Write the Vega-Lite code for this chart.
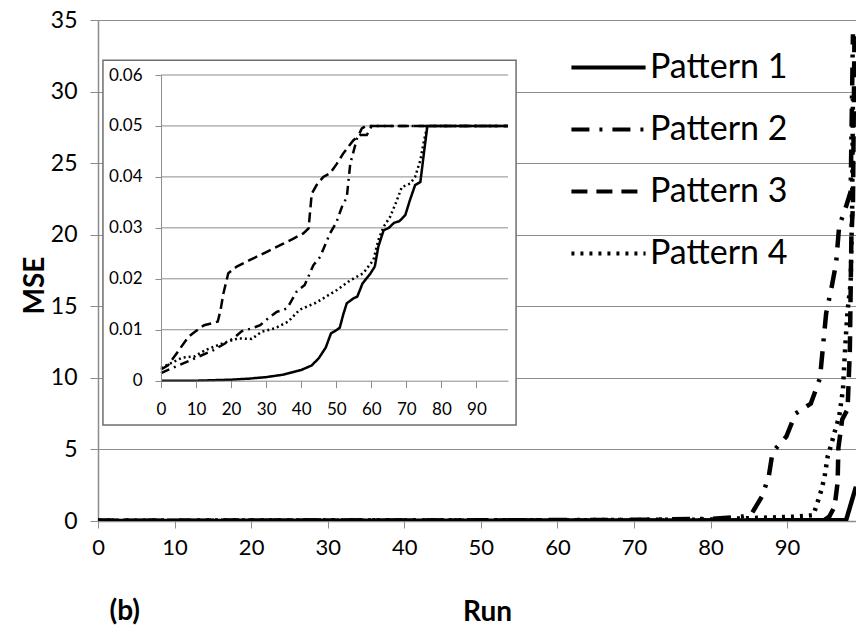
{
  "$schema": "https://vega.github.io/schema/vega-lite/v6.json",
  "width": 758,
  "height": 501,
  "autosize": {"type": "none"},
  "padding": {"left": 98, "top": 20, "right": 0, "bottom": 119},
  "background": "white",
  "config": {"font": "Lato", "view": {"stroke": null}},
  "resolve": {
    "scale": {"x": "independent", "y": "independent", "strokeDash": "independent"},
    "axis": {"x": "independent", "y": "independent"},
    "legend": {"strokeDash": "independent"}
  },
  "layer": [
    {
      "data": {"values": [
        {"run": 0, "mse": 0, "pattern": "Pattern 1"},
        {"run": 20, "mse": 0.01, "pattern": "Pattern 1"},
        {"run": 40, "mse": 0.02, "pattern": "Pattern 1"},
        {"run": 60, "mse": 0.03, "pattern": "Pattern 1"},
        {"run": 80, "mse": 0.04, "pattern": "Pattern 1"},
        {"run": 97.7, "mse": 0.05, "pattern": "Pattern 1"},
        {"run": 99, "mse": 2.4, "pattern": "Pattern 1"},
        {"run": 0, "mse": 0.02, "pattern": "Pattern 2"},
        {"run": 40, "mse": 0.03, "pattern": "Pattern 2"},
        {"run": 70, "mse": 0.08, "pattern": "Pattern 2"},
        {"run": 80, "mse": 0.15, "pattern": "Pattern 2"},
        {"run": 84, "mse": 0.3, "pattern": "Pattern 2"},
        {"run": 85.3, "mse": 0.45, "pattern": "Pattern 2"},
        {"run": 86.7, "mse": 1.7, "pattern": "Pattern 2"},
        {"run": 87.6, "mse": 3.1, "pattern": "Pattern 2"},
        {"run": 88.1, "mse": 4.8, "pattern": "Pattern 2"},
        {"run": 89.9, "mse": 5.9, "pattern": "Pattern 2"},
        {"run": 91.1, "mse": 7.5, "pattern": "Pattern 2"},
        {"run": 93.1, "mse": 8.2, "pattern": "Pattern 2"},
        {"run": 94.3, "mse": 10.0, "pattern": "Pattern 2"},
        {"run": 94.6, "mse": 11.7, "pattern": "Pattern 2"},
        {"run": 95.1, "mse": 14.5, "pattern": "Pattern 2"},
        {"run": 95.8, "mse": 16.3, "pattern": "Pattern 2"},
        {"run": 96.4, "mse": 18.0, "pattern": "Pattern 2"},
        {"run": 96.8, "mse": 20.6, "pattern": "Pattern 2"},
        {"run": 97.6, "mse": 21.8, "pattern": "Pattern 2"},
        {"run": 98.3, "mse": 23, "pattern": "Pattern 2"},
        {"run": 98.6, "mse": 34, "pattern": "Pattern 2"},
        {"run": 0, "mse": 0.01, "pattern": "Pattern 3"},
        {"run": 50, "mse": 0.02, "pattern": "Pattern 3"},
        {"run": 90, "mse": 0.03, "pattern": "Pattern 3"},
        {"run": 94.8, "mse": 0.05, "pattern": "Pattern 3"},
        {"run": 95.5, "mse": 0.3, "pattern": "Pattern 3"},
        {"run": 96.2, "mse": 1.0, "pattern": "Pattern 3"},
        {"run": 96.6, "mse": 2.7, "pattern": "Pattern 3"},
        {"run": 96.7, "mse": 5.1, "pattern": "Pattern 3"},
        {"run": 97.2, "mse": 7.1, "pattern": "Pattern 3"},
        {"run": 97.9, "mse": 7.8, "pattern": "Pattern 3"},
        {"run": 98.2, "mse": 12, "pattern": "Pattern 3"},
        {"run": 98.4, "mse": 20, "pattern": "Pattern 3"},
        {"run": 98.6, "mse": 22, "pattern": "Pattern 3"},
        {"run": 98.8, "mse": 34, "pattern": "Pattern 3"},
        {"run": 0, "mse": 0.02, "pattern": "Pattern 4"},
        {"run": 60, "mse": 0.05, "pattern": "Pattern 4"},
        {"run": 80, "mse": 0.1, "pattern": "Pattern 4"},
        {"run": 85, "mse": 0.2, "pattern": "Pattern 4"},
        {"run": 88, "mse": 0.25, "pattern": "Pattern 4"},
        {"run": 91, "mse": 0.3, "pattern": "Pattern 4"},
        {"run": 93.4, "mse": 0.4, "pattern": "Pattern 4"},
        {"run": 93.8, "mse": 1.0, "pattern": "Pattern 4"},
        {"run": 94.5, "mse": 2.2, "pattern": "Pattern 4"},
        {"run": 94.9, "mse": 3.1, "pattern": "Pattern 4"},
        {"run": 95.3, "mse": 4.5, "pattern": "Pattern 4"},
        {"run": 95.8, "mse": 5.4, "pattern": "Pattern 4"},
        {"run": 96.2, "mse": 6.2, "pattern": "Pattern 4"},
        {"run": 96.8, "mse": 7.3, "pattern": "Pattern 4"},
        {"run": 97.3, "mse": 9.2, "pattern": "Pattern 4"},
        {"run": 97.5, "mse": 11.3, "pattern": "Pattern 4"},
        {"run": 97.7, "mse": 13.1, "pattern": "Pattern 4"},
        {"run": 97.9, "mse": 14.7, "pattern": "Pattern 4"},
        {"run": 98.3, "mse": 16.6, "pattern": "Pattern 4"},
        {"run": 98.5, "mse": 22, "pattern": "Pattern 4"},
        {"run": 98.6, "mse": 29.5, "pattern": "Pattern 4"}
      ]},
      "mark": {"type": "line", "color": "black", "strokeWidth": 4.5, "strokeCap": "butt", "clip": true},
      "encoding": {
        "x": {"field": "run", "type": "quantitative",
          "scale": {"domain": [0, 99], "nice": false, "zero": false},
          "axis": {"title": "Run", "titleFontSize": 28, "titleFontWeight": "bold", "titleColor": "black",
            "titleX": 389, "titleY": 91, "titleBaseline": "middle", "titleAlign": "center",
            "values": [0, 10, 20, 30, 40, 50, 60, 70, 80, 90], "grid": false,
            "domainColor": "#8c8c8c", "domainWidth": 1.5, "tickColor": "#8c8c8c", "tickSize": 7, "tickWidth": 1,
            "labelFontSize": 22, "labelColor": "black", "labelPadding": 9, "labelFlush": false}},
        "y": {"field": "mse", "type": "quantitative",
          "scale": {"domain": [0, 35], "nice": false, "zero": false},
          "axis": {"title": "MSE", "titleFontSize": 28, "titleFontWeight": "bold", "titleColor": "black",
            "titleX": -63, "titleY": 265, "titleAngle": 270, "titleBaseline": "middle", "titleAlign": "center",
            "values": [0, 5, 10, 15, 20, 25, 30, 35], "grid": true, "gridColor": "#8c8c8c", "gridWidth": 1,
            "domainColor": "#8c8c8c", "domainWidth": 1.5, "tickColor": "#8c8c8c", "tickSize": 8, "tickWidth": 1,
            "labelFontSize": 23, "labelColor": "black", "labelPadding": 13}},
        "strokeDash": {"field": "pattern", "type": "nominal",
          "scale": {"domain": ["Pattern 1", "Pattern 2", "Pattern 3", "Pattern 4"],
            "range": [[1, 0], [18, 10, 3, 10], [16, 9], [3, 6]]},
          "legend": {"title": null, "orient": "none", "legendX": 471, "legendY": 8,
            "symbolType": "stroke", "symbolSize": 5500, "symbolStrokeWidth": 4, "symbolStrokeColor": "black",
            "labelFontSize": 34, "labelColor": "black", "labelOffset": 2, "rowPadding": 5,
            "labelLimit": 400}}
      }
    },
    {
      "data": {"values": [{"label": "(b)"}]},
      "mark": {"type": "text", "fontSize": 28, "fontWeight": "bold", "color": "black", "align": "center", "baseline": "middle", "clip": false},
      "encoding": {
        "text": {"field": "label"},
        "x": {"datum": 3.5, "type": "quantitative", "scale": {"domain": [0, 99], "nice": false, "zero": false}, "axis": null},
        "y": {"datum": -6.36, "type": "quantitative", "scale": {"domain": [0, 35], "nice": false, "zero": false}, "axis": null}
      }
    },
    {
      "data": {"values": [{}]},
      "mark": {"type": "rect", "fill": "white", "stroke": "#6e6e6e", "strokeWidth": 1.5},
      "encoding": {
        "x": {"datum": -16.56, "type": "quantitative", "scale": {"domain": [0, 99], "range": [63, 410], "nice": false, "zero": false}, "axis": null},
        "x2": {"datum": 101.3},
        "y": {"datum": 0.0629, "type": "quantitative", "scale": {"domain": [0, 0.06], "range": [360.7, 55], "nice": false, "zero": false}, "axis": null},
        "y2": {"datum": -0.0087}
      }
    },
    {
      "data": {"values": [{"g": 0.01}, {"g": 0.02}, {"g": 0.03}, {"g": 0.04}, {"g": 0.05}, {"g": 0.06}]},
      "mark": {"type": "rule", "color": "#8c8c8c", "strokeWidth": 1},
      "encoding": {
        "y": {"field": "g", "type": "quantitative", "scale": {"domain": [0, 0.06], "range": [360.7, 55], "nice": false, "zero": false}, "axis": null},
        "x": {"datum": 0, "type": "quantitative", "scale": {"domain": [0, 99], "range": [63, 410], "nice": false, "zero": false}, "axis": null},
        "x2": {"datum": 99}
      }
    },
    {
      "data": {"values": [
        {"run": 0, "mse": 0, "pattern": "Pattern 1"},
        {"run": 10, "mse": 0, "pattern": "Pattern 1"},
        {"run": 20, "mse": 0.0002, "pattern": "Pattern 1"},
        {"run": 25, "mse": 0.0004, "pattern": "Pattern 1"},
        {"run": 30, "mse": 0.0007, "pattern": "Pattern 1"},
        {"run": 35, "mse": 0.0012, "pattern": "Pattern 1"},
        {"run": 40, "mse": 0.0021, "pattern": "Pattern 1"},
        {"run": 43, "mse": 0.003, "pattern": "Pattern 1"},
        {"run": 45, "mse": 0.0044, "pattern": "Pattern 1"},
        {"run": 47, "mse": 0.0065, "pattern": "Pattern 1"},
        {"run": 48.5, "mse": 0.0093, "pattern": "Pattern 1"},
        {"run": 50, "mse": 0.0099, "pattern": "Pattern 1"},
        {"run": 51, "mse": 0.0104, "pattern": "Pattern 1"},
        {"run": 52, "mse": 0.013, "pattern": "Pattern 1"},
        {"run": 53, "mse": 0.0152, "pattern": "Pattern 1"},
        {"run": 55, "mse": 0.0162, "pattern": "Pattern 1"},
        {"run": 56, "mse": 0.0165, "pattern": "Pattern 1"},
        {"run": 57.5, "mse": 0.0191, "pattern": "Pattern 1"},
        {"run": 59.7, "mse": 0.021, "pattern": "Pattern 1"},
        {"run": 61, "mse": 0.0224, "pattern": "Pattern 1"},
        {"run": 62, "mse": 0.0263, "pattern": "Pattern 1"},
        {"run": 63.5, "mse": 0.0295, "pattern": "Pattern 1"},
        {"run": 65, "mse": 0.03, "pattern": "Pattern 1"},
        {"run": 66.5, "mse": 0.031, "pattern": "Pattern 1"},
        {"run": 68, "mse": 0.0313, "pattern": "Pattern 1"},
        {"run": 69.7, "mse": 0.0325, "pattern": "Pattern 1"},
        {"run": 71, "mse": 0.0354, "pattern": "Pattern 1"},
        {"run": 72.5, "mse": 0.0384, "pattern": "Pattern 1"},
        {"run": 74, "mse": 0.039, "pattern": "Pattern 1"},
        {"run": 75, "mse": 0.0446, "pattern": "Pattern 1"},
        {"run": 76, "mse": 0.05, "pattern": "Pattern 1"},
        {"run": 99, "mse": 0.05, "pattern": "Pattern 1"},
        {"run": 0, "mse": 0.0015, "pattern": "Pattern 2"},
        {"run": 5, "mse": 0.003, "pattern": "Pattern 2"},
        {"run": 10, "mse": 0.0045, "pattern": "Pattern 2"},
        {"run": 15, "mse": 0.006, "pattern": "Pattern 2"},
        {"run": 18, "mse": 0.0072, "pattern": "Pattern 2"},
        {"run": 21, "mse": 0.0085, "pattern": "Pattern 2"},
        {"run": 23, "mse": 0.0097, "pattern": "Pattern 2"},
        {"run": 26, "mse": 0.0103, "pattern": "Pattern 2"},
        {"run": 28.3, "mse": 0.0109, "pattern": "Pattern 2"},
        {"run": 31, "mse": 0.0125, "pattern": "Pattern 2"},
        {"run": 33, "mse": 0.0135, "pattern": "Pattern 2"},
        {"run": 36, "mse": 0.0142, "pattern": "Pattern 2"},
        {"run": 38.7, "mse": 0.0175, "pattern": "Pattern 2"},
        {"run": 41, "mse": 0.0188, "pattern": "Pattern 2"},
        {"run": 43.5, "mse": 0.0227, "pattern": "Pattern 2"},
        {"run": 45.4, "mse": 0.0243, "pattern": "Pattern 2"},
        {"run": 48.2, "mse": 0.0289, "pattern": "Pattern 2"},
        {"run": 50, "mse": 0.031, "pattern": "Pattern 2"},
        {"run": 51.6, "mse": 0.0341, "pattern": "Pattern 2"},
        {"run": 53, "mse": 0.036, "pattern": "Pattern 2"},
        {"run": 54, "mse": 0.0426, "pattern": "Pattern 2"},
        {"run": 55.9, "mse": 0.0475, "pattern": "Pattern 2"},
        {"run": 57.3, "mse": 0.0495, "pattern": "Pattern 2"},
        {"run": 58.5, "mse": 0.05, "pattern": "Pattern 2"},
        {"run": 99, "mse": 0.05, "pattern": "Pattern 2"},
        {"run": 0, "mse": 0.0022, "pattern": "Pattern 3"},
        {"run": 2, "mse": 0.003, "pattern": "Pattern 3"},
        {"run": 4.5, "mse": 0.0054, "pattern": "Pattern 3"},
        {"run": 7.8, "mse": 0.0086, "pattern": "Pattern 3"},
        {"run": 9.7, "mse": 0.0096, "pattern": "Pattern 3"},
        {"run": 12.3, "mse": 0.0109, "pattern": "Pattern 3"},
        {"run": 14.7, "mse": 0.0113, "pattern": "Pattern 3"},
        {"run": 16.2, "mse": 0.0116, "pattern": "Pattern 3"},
        {"run": 17, "mse": 0.0139, "pattern": "Pattern 3"},
        {"run": 17.8, "mse": 0.0171, "pattern": "Pattern 3"},
        {"run": 19.2, "mse": 0.0211, "pattern": "Pattern 3"},
        {"run": 21.6, "mse": 0.0224, "pattern": "Pattern 3"},
        {"run": 25.4, "mse": 0.0237, "pattern": "Pattern 3"},
        {"run": 30.2, "mse": 0.0253, "pattern": "Pattern 3"},
        {"run": 34.9, "mse": 0.0269, "pattern": "Pattern 3"},
        {"run": 37.8, "mse": 0.0279, "pattern": "Pattern 3"},
        {"run": 40.6, "mse": 0.0289, "pattern": "Pattern 3"},
        {"run": 42.1, "mse": 0.0299, "pattern": "Pattern 3"},
        {"run": 43, "mse": 0.0367, "pattern": "Pattern 3"},
        {"run": 44.4, "mse": 0.0384, "pattern": "Pattern 3"},
        {"run": 46.3, "mse": 0.04, "pattern": "Pattern 3"},
        {"run": 48.2, "mse": 0.0407, "pattern": "Pattern 3"},
        {"run": 50.2, "mse": 0.0426, "pattern": "Pattern 3"},
        {"run": 52, "mse": 0.0446, "pattern": "Pattern 3"},
        {"run": 54.9, "mse": 0.0472, "pattern": "Pattern 3"},
        {"run": 56.8, "mse": 0.0482, "pattern": "Pattern 3"},
        {"run": 58.7, "mse": 0.0482, "pattern": "Pattern 3"},
        {"run": 60.1, "mse": 0.05, "pattern": "Pattern 3"},
        {"run": 99, "mse": 0.05, "pattern": "Pattern 3"},
        {"run": 0, "mse": 0.0025, "pattern": "Pattern 4"},
        {"run": 3, "mse": 0.0035, "pattern": "Pattern 4"},
        {"run": 6, "mse": 0.0045, "pattern": "Pattern 4"},
        {"run": 9.7, "mse": 0.0048, "pattern": "Pattern 4"},
        {"run": 12.6, "mse": 0.006, "pattern": "Pattern 4"},
        {"run": 18.3, "mse": 0.0075, "pattern": "Pattern 4"},
        {"run": 22, "mse": 0.0083, "pattern": "Pattern 4"},
        {"run": 25.9, "mse": 0.0082, "pattern": "Pattern 4"},
        {"run": 28.7, "mse": 0.0096, "pattern": "Pattern 4"},
        {"run": 32.5, "mse": 0.0103, "pattern": "Pattern 4"},
        {"run": 36.3, "mse": 0.0116, "pattern": "Pattern 4"},
        {"run": 39.5, "mse": 0.0139, "pattern": "Pattern 4"},
        {"run": 44.2, "mse": 0.0153, "pattern": "Pattern 4"},
        {"run": 50.2, "mse": 0.0178, "pattern": "Pattern 4"},
        {"run": 54, "mse": 0.0197, "pattern": "Pattern 4"},
        {"run": 57.7, "mse": 0.0211, "pattern": "Pattern 4"},
        {"run": 60.6, "mse": 0.0237, "pattern": "Pattern 4"},
        {"run": 62, "mse": 0.0276, "pattern": "Pattern 4"},
        {"run": 63.5, "mse": 0.0302, "pattern": "Pattern 4"},
        {"run": 65.4, "mse": 0.0322, "pattern": "Pattern 4"},
        {"run": 67.3, "mse": 0.0354, "pattern": "Pattern 4"},
        {"run": 68.7, "mse": 0.038, "pattern": "Pattern 4"},
        {"run": 71.1, "mse": 0.0387, "pattern": "Pattern 4"},
        {"run": 72.5, "mse": 0.04, "pattern": "Pattern 4"},
        {"run": 74, "mse": 0.0433, "pattern": "Pattern 4"},
        {"run": 75, "mse": 0.047, "pattern": "Pattern 4"},
        {"run": 76, "mse": 0.05, "pattern": "Pattern 4"},
        {"run": 99, "mse": 0.05, "pattern": "Pattern 4"}
      ]},
      "mark": {"type": "line", "color": "black", "strokeWidth": 2.5, "strokeCap": "butt"},
      "encoding": {
        "x": {"field": "run", "type": "quantitative",
          "scale": {"domain": [0, 99], "range": [63, 410], "nice": false, "zero": false},
          "axis": {"title": null, "orient": "bottom", "offset": -140.3, "zindex": 2,
            "values": [0, 10, 20, 30, 40, 50, 60, 70, 80, 90], "grid": false,
            "domainColor": "#8c8c8c", "domainWidth": 1, "tickColor": "#8c8c8c", "tickSize": 7, "tickWidth": 1,
            "labelFontSize": 17, "labelColor": "black", "labelPadding": 14, "labelFlush": false}},
        "y": {"field": "mse", "type": "quantitative",
          "scale": {"domain": [0, 0.06], "range": [360.7, 55], "nice": false, "zero": false},
          "axis": {"title": null, "orient": "left", "offset": -63, "zindex": 2,
            "values": [0, 0.01, 0.02, 0.03, 0.04, 0.05, 0.06], "format": "~f", "grid": false,
            "domainColor": "#8c8c8c", "domainWidth": 1, "tickColor": "#8c8c8c", "tickSize": 6, "tickWidth": 1,
            "labelFontSize": 17, "labelColor": "black", "labelPadding": 13}},
        "strokeDash": {"field": "pattern", "type": "nominal",
          "scale": {"domain": ["Pattern 1", "Pattern 2", "Pattern 3", "Pattern 4"],
            "range": [[1, 0], [9, 5, 2, 5], [10, 5], [2, 3]]},
          "legend": null}
      }
    }
  ]
}
